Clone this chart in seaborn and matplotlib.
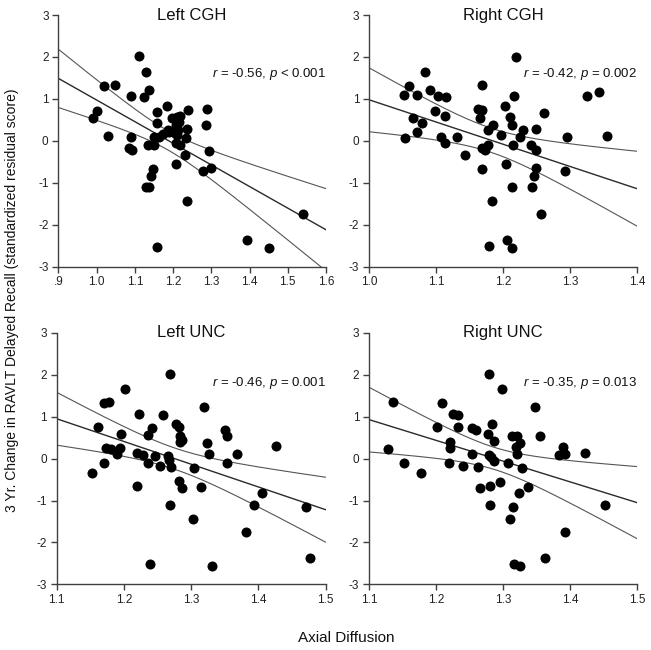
import numpy as np
import pandas as pd
import matplotlib
matplotlib.use("Agg")
import matplotlib.pyplot as plt
import seaborn as sns

# ---------------- data ----------------
lcgh_x = [0.990, 1.000, 1.020, 1.047, 1.031, 1.090, 1.090, 1.084, 1.093, 1.111,
          1.129, 1.136, 1.123, 1.134, 1.149, 1.150, 1.157, 1.157, 1.147, 1.142,
          1.130, 1.138, 1.157, 1.184, 1.164, 1.175, 1.187, 1.198, 1.210, 1.218,
          1.208, 1.201, 1.210, 1.208, 1.217, 1.207, 1.231, 1.237, 1.235, 1.240,
          1.237, 1.288, 1.285, 1.294, 1.279, 1.300, 1.393, 1.452, 1.539,
          1.213, 1.205, 1.190, 1.215]
lcgh_y = [0.55, 0.72, 1.31, 1.33, 0.12, 1.06, 0.08, -0.17, -0.22, 2.02,
          1.65, 1.21, 1.05, -0.11, -0.11, 0.09, 0.69, 0.43, -0.67, -0.83,
          -1.10, -1.11, -2.52, 0.83, 0.10, 0.16, 0.26, 0.55, 0.56, 0.60,
          0.38, 0.22, 0.14, -0.04, -0.10, -0.55, -0.34, 0.29, 0.06, 0.74,
          -1.43, 0.75, 0.37, -0.23, -0.71, -0.65, -2.36, -2.56, -1.74,
          0.27, 0.18, 0.20, 0.45]

rcgh_x = [1.052, 1.059, 1.054, 1.072, 1.066, 1.072, 1.079, 1.084, 1.091, 1.099,
          1.103, 1.115, 1.113, 1.107, 1.114, 1.131, 1.143, 1.169, 1.163, 1.168,
          1.165, 1.169, 1.169, 1.173, 1.177, 1.177, 1.185, 1.184, 1.179, 1.197,
          1.203, 1.205, 1.206, 1.213, 1.220, 1.217, 1.211, 1.214, 1.215, 1.214,
          1.225, 1.230, 1.242, 1.249, 1.250, 1.250, 1.246, 1.244, 1.256, 1.261,
          1.296, 1.293, 1.325, 1.344, 1.355]
rcgh_y = [1.10, 1.31, 0.06, 1.10, 0.55, 0.22, 0.42, 1.64, 1.21, 0.72,
          1.06, 1.04, 0.59, 0.10, -0.06, 0.08, -0.34, 1.33, 0.76, 0.74,
          0.55, -0.67, -0.16, -0.21, -0.10, 0.25, 0.38, -1.44, -2.51, 0.15,
          0.83, -0.54, -2.36, -2.56, 2.01, 1.08, 0.56, 0.37, -0.10, -1.10,
          0.10, 0.27, -0.10, 0.29, -0.21, -0.65, -0.83, -1.10, -1.74, 0.67,
          0.08, -0.71, 1.06, 1.17, 0.12]

lunc_x = [1.153, 1.162, 1.170, 1.178, 1.170, 1.173, 1.180, 1.189, 1.194, 1.196,
          1.202, 1.219, 1.219, 1.223, 1.229, 1.236, 1.241, 1.236, 1.239, 1.246,
          1.254, 1.258, 1.265, 1.267, 1.268, 1.270, 1.268, 1.278, 1.282, 1.283,
          1.283, 1.287, 1.282, 1.286, 1.304, 1.302, 1.315, 1.319, 1.324, 1.326,
          1.331, 1.350, 1.353, 1.353, 1.368, 1.382, 1.394, 1.405, 1.426, 1.470,
          1.477]
lunc_y = [-0.34, 0.75, 1.32, 1.34, -0.10, 0.25, 0.23, 0.10, 0.26, 0.59,
          1.65, -0.65, 0.14, 1.07, 0.08, 0.57, 0.72, -0.10, -2.51, 0.06,
          -0.17, 1.05, 0.07, -0.03, 2.02, -0.21, -1.10, 0.83, 0.76, 0.55,
          0.40, 0.44, -0.54, -0.71, -0.22, -1.44, -0.67, 1.22, 0.37, 0.12,
          -2.57, 0.68, 0.55, -0.10, 0.12, -1.74, -1.10, -0.83, 0.29, -1.16,
          -2.37]

runc_x = [1.128, 1.136, 1.153, 1.178, 1.202, 1.209, 1.219, 1.221, 1.221, 1.226,
          1.233, 1.233, 1.241, 1.253, 1.259, 1.254, 1.262, 1.266, 1.277, 1.279,
          1.279, 1.282, 1.280, 1.281, 1.284, 1.287, 1.287, 1.295, 1.299, 1.307,
          1.310, 1.314, 1.315, 1.317, 1.321, 1.320, 1.321, 1.325, 1.324, 1.325,
          1.328, 1.337, 1.348, 1.355, 1.363, 1.384, 1.389, 1.393, 1.392, 1.422,
          1.452]
runc_y = [0.22, 1.34, -0.10, -0.34, 0.75, 1.32, -0.10, 0.39, 0.25, 1.07,
          1.04, 0.76, -0.17, 0.73, 0.68, 0.10, -0.21, -0.71, 0.59, 2.02,
          0.09, 0.03, -0.65, -1.10, 0.83, 0.43, -0.06, -0.55, 1.65, -0.10,
          -1.43, 0.55, -1.16, -2.51, 0.55, 0.27, 0.11, 0.37, -0.83, -2.57,
          -0.22, -0.67, 1.22, 0.55, -2.37, 0.09, 0.27, 0.12, -1.74, 0.14,
          -1.10]

# regression line as drawn in the reference (value at left / right axis limit)
fit_start = [1.49, 0.98, 0.95, 0.93]
fit_end = [-2.12, -1.14, -1.22, -1.05]
# half-width of the 95% confidence band at the left / right axis limit
band_start = [0.695, 0.76, 0.63, 0.78]
band_end = [0.98, 0.895, 0.775, 0.85]

titles = ["Left CGH", "Right CGH", "Left UNC", "Right UNC"]
r_vals = ["-0.56", "-0.42", "-0.46", "-0.35"]
p_vals = ["< 0.001", "= 0.002", "= 0.001", "= 0.013"]

lcgh_ticks = [0.9, 1.0, 1.1, 1.2, 1.3, 1.4, 1.5, 1.6]
lcgh_labels = [".9", "1.0", "1.1", "1.2", "1.3", "1.4", "1.5", "1.6"]
rcgh_ticks = [1.0, 1.1, 1.2, 1.3, 1.4]
rcgh_labels = ["1.0", "1.1", "1.2", "1.3", "1.4"]
unc_ticks = [1.1, 1.2, 1.3, 1.4, 1.5]
unc_labels = ["1.1", "1.2", "1.3", "1.4", "1.5"]
y_ticks = [-3, -2, -1, 0, 1, 2, 3]

x_label = "Axial Diffusion"
y_label = "3 Yr. Change in RAVLT Delayed Recall (standardized residual score)"

# ---------------- style ----------------
sns.set_style("ticks")
plt.rcParams["font.family"] = ["Liberation Sans", "DejaVu Sans"]
plt.rcParams["mathtext.fontset"] = "custom"
plt.rcParams["mathtext.rm"] = "Liberation Sans"
plt.rcParams["mathtext.it"] = "Liberation Sans:italic"

spine_col = "#404040"

fig = plt.figure(figsize=(6.51, 6.50), dpi=100)

panels = [
    (lcgh_x, lcgh_y, lcgh_ticks, lcgh_labels, [0.0896, 0.5897, 0.4112, 0.3872], 1.6),
    (rcgh_x, rcgh_y, rcgh_ticks, rcgh_labels, [0.5668, 0.5897, 0.4117, 0.3872], 1.6),
    (lunc_x, lunc_y, unc_ticks, unc_labels, [0.0871, 0.1010, 0.4132, 0.3870], 1.8),
    (runc_x, runc_y, unc_ticks, unc_labels, [0.5668, 0.1010, 0.4117, 0.3870], 1.8),
]

for i, (xv, yv, xt, xl, pos, ann_y) in enumerate(panels):
    ax = fig.add_axes(pos)
    df = pd.DataFrame({"x": xv, "y": yv})
    x = df["x"].to_numpy()
    n = len(x)
    sxx = np.sum((x - x.mean()) ** 2)

    x0, x1 = xt[0], xt[-1]
    xs = np.linspace(x0, x1, 300)
    slope = (fit_end[i] - fit_start[i]) / (x1 - x0)
    fit = fit_start[i] + slope * (xs - x0)
    # confidence-band shape from the points' x spread, scaled to the drawn band
    shape = lambda v: np.sqrt(1.0 / n + (v - x.mean()) ** 2 / sxx)
    scale = 0.5 * (band_start[i] / shape(x0) + band_end[i] / shape(x1))
    half = scale * shape(xs)
    lines = pd.DataFrame({"xs": xs, "fit": fit, "lo": fit - half, "hi": fit + half})

    sns.lineplot(data=lines, x="xs", y="hi", ax=ax, color="#555555", lw=0.8, zorder=2)
    sns.lineplot(data=lines, x="xs", y="lo", ax=ax, color="#555555", lw=0.8, zorder=2)
    sns.lineplot(data=lines, x="xs", y="fit", ax=ax, color="#2a2a2a", lw=1.0, zorder=2)
    sns.scatterplot(data=df, x="x", y="y", ax=ax, s=52, color="black",
                    edgecolor="black", linewidth=0, zorder=3, clip_on=False)

    ax.set_xlim(x0, x1)
    ax.set_ylim(-3, 3)
    ax.set_xticks(xt)
    ax.set_xticklabels(xl)
    ax.set_yticks(y_ticks)
    ax.set_yticklabels([str(v) for v in y_ticks])
    ax.set_xlabel("")
    ax.set_ylabel("")
    sns.despine(ax=ax)
    for sp in ("left", "bottom"):
        ax.spines[sp].set_color(spine_col)
        ax.spines[sp].set_linewidth(1.0)
    ax.tick_params(axis="both", direction="out", length=4, width=1.0,
                   color=spine_col, labelsize=8.5, labelcolor="#222222", pad=3)

    ax.text(0.5, 1.0, titles[i], transform=ax.transAxes, ha="center",
            va="center", fontsize=12, color="#111111")
    ax.text(1.0, ann_y,
            r"$\it{r}$ = " + r_vals[i] + r", $\it{p}$ " + p_vals[i],
            transform=ax.get_yaxis_transform(), ha="right", va="center",
            fontsize=9.5, color="#111111")

fig.text(0.019, 0.538, y_label, rotation=90, ha="center", va="center",
         fontsize=10, color="#111111")
fig.text(0.532, 0.019, x_label, ha="center", va="center",
         fontsize=11, color="#111111")

fig.savefig("out.png", dpi=100)
